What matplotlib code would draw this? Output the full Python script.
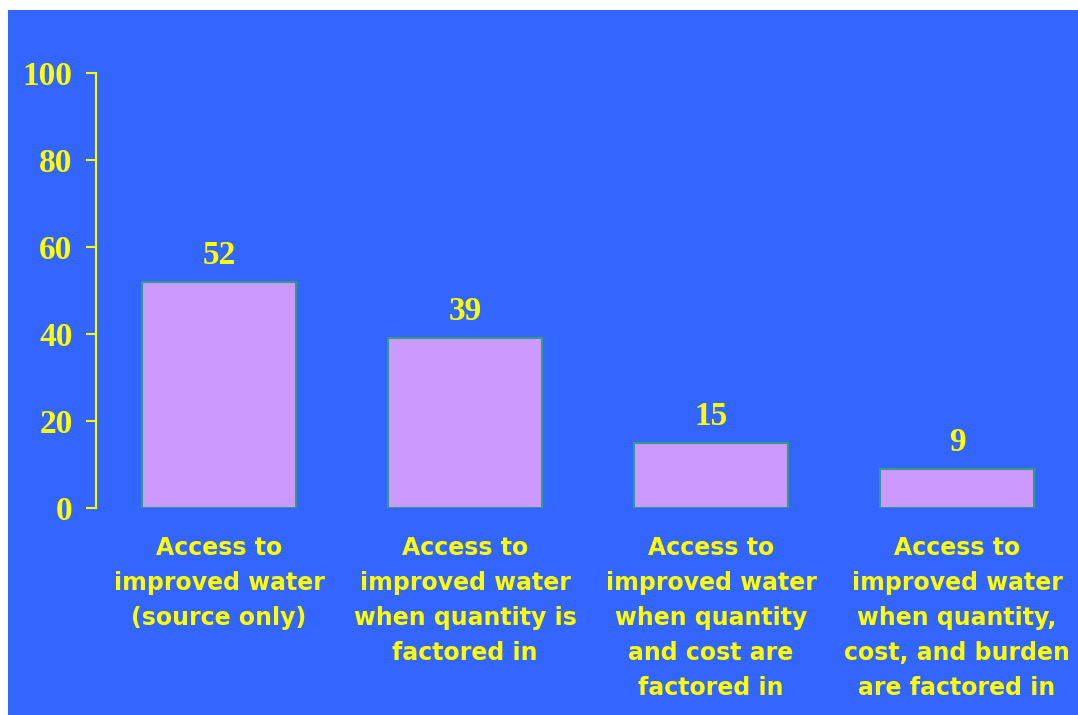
import matplotlib.pyplot as plt
from matplotlib.patches import Rectangle

categories = [
    "Access to\nimproved water\n(source only)",
    "Access to\nimproved water\nwhen quantity is\nfactored in",
    "Access to\nimproved water\nwhen quantity\nand cost are\nfactored in",
    "Access to\nimproved water\nwhen quantity,\ncost, and burden\nare factored in",
]
values = [52, 39, 15, 9]
yticks = [0, 20, 40, 60, 80, 100]

blue = "#3366FF"
yellow = "#FFFF00"

fig = plt.figure(figsize=(10.78, 7.15), dpi=100)
fig.patch.set_facecolor("white")
# blue slide background, white margin at top and left
fig.patches.append(Rectangle((8 / 1078, 0), 1, 1 - 10 / 715, transform=fig.transFigure,
                             facecolor=blue, edgecolor="none", zorder=-10))

ax = fig.add_axes([96 / 1078, 1 - 508 / 715, 984 / 1078, 435 / 715])
ax.set_facecolor("none")

x = range(len(values))
ax.bar(x, values, width=0.63, color="#CC99FF", edgecolor="#339988", linewidth=1.5)

for i, v in zip(x, values):
    ax.annotate(str(v), (i, v), xytext=(0, 13), textcoords="offset points",
                ha="center", va="baseline", color=yellow, fontsize=24,
                fontweight="bold", family="Liberation Serif")

ax.set_xlim(-0.5, 3.5)
ax.set_ylim(0, 100)
ax.set_yticks(yticks)
ax.set_yticklabels([str(t) for t in yticks], color=yellow, fontsize=24,
                   fontweight="bold", family="Liberation Serif")
ax.tick_params(axis="y", colors=yellow, length=7, width=1.5, pad=10)

ax.set_xticks(list(x))
ax.set_xticklabels(categories, color=yellow, fontsize=17, fontweight="bold",
                   family="DejaVu Sans", linespacing=1.58)
ax.tick_params(axis="x", length=0, pad=20)

for s in ["top", "right", "bottom"]:
    ax.spines[s].set_visible(False)
ax.spines["left"].set_color(yellow)
ax.spines["left"].set_linewidth(1.5)

fig.savefig("out.png", dpi=100)
